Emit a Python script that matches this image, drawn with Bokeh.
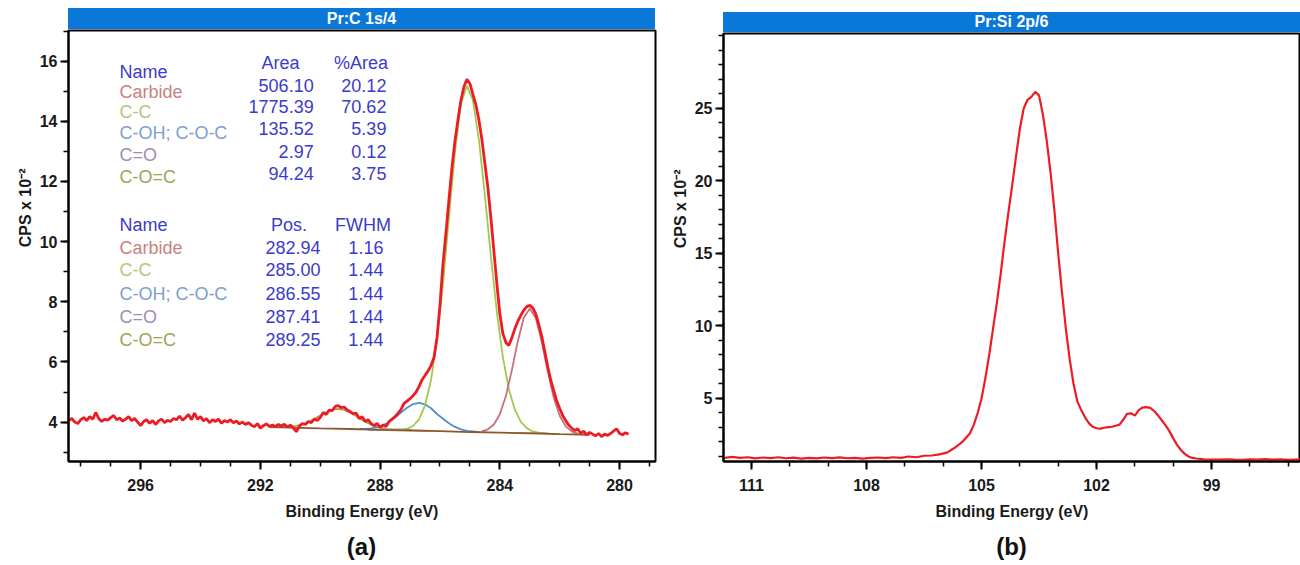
from bokeh.plotting import figure
from bokeh.models import Range1d, FixedTicker, Div, Title, ColumnDataSource
from bokeh.layouts import row, column
from bokeh.embed import file_html
from bokeh.resources import INLINE
from bokeh.core.properties import value

FONT = "Liberation Sans"
RED = "#ec1c24"
BAR_BLUE = "#0a78d8"
TXT_BLUE = "#3b3bcc"

# ---------------- panel (a): C 1s ----------------
c1s_start, c1s_step = 298.4, 0.1
c1s_cps = [
    4.05, 4.12, 4.00, 3.95, 4.08, 4.15, 4.05, 4.18, 4.10, 4.32,
    4.12, 4.02, 4.10, 4.06, 4.15, 4.22, 4.08, 4.14, 4.03, 4.10,
    4.18, 4.05, 4.12, 4.00, 3.88, 4.02, 4.08, 3.96, 4.05, 3.92,
    4.04, 4.10, 3.98, 4.06, 4.02, 4.12, 4.08, 4.20, 4.06, 4.15,
    4.25, 4.08, 4.30, 4.10, 4.18, 4.04, 4.12, 3.98, 4.08, 4.02,
    4.10, 3.96, 4.05, 4.00, 4.08, 3.98, 4.04, 3.94, 4.00, 3.92,
    3.98, 3.90, 3.84, 3.95, 3.80,
    3.88, 3.94, 3.86, 3.90, 3.85, 3.92, 3.87, 3.93, 3.84, 3.90,
    3.80, 3.68, 3.86, 3.95, 3.92, 4.02, 3.98, 4.10, 4.05, 4.15,
    4.32, 4.25, 4.40, 4.38, 4.52, 4.55, 4.48, 4.50, 4.40, 4.35,
    4.28, 4.30, 4.12, 4.18, 4.02, 4.08, 3.95, 3.88, 3.96, 3.82,
    3.90, 3.85, 4.02, 4.10, 4.18, 4.30, 4.42, 4.62, 4.70, 4.78,
    4.88, 5.00, 5.18, 5.40, 5.55, 5.70, 5.88, 6.15, 6.80, 7.90,
    9.25, 10.30, 11.40, 12.45, 13.35, 14.05, 14.70, 15.15, 15.40, 15.25,
    14.90, 14.55, 14.05, 13.40, 12.60, 11.80, 10.80, 9.70, 8.60, 7.60,
    6.95, 6.65, 6.55, 6.80, 7.10, 7.35, 7.55, 7.72, 7.84, 7.88,
    7.80, 7.60, 7.25, 6.85, 6.35, 5.85, 5.40, 5.05, 4.70, 4.45,
    4.22, 4.05, 3.90, 3.80, 3.72, 3.78, 3.62, 3.70, 3.58, 3.66,
    3.60, 3.55, 3.62, 3.52, 3.60, 3.56, 3.62, 3.70, 3.78, 3.62,
    3.58, 3.65, 3.60,
]
c1s_be = [round(c1s_start - c1s_step * i, 1) for i in range(len(c1s_cps))]

bg_be = [291.7, 290.0, 289.0, 288.0, 287.0, 286.0, 285.0, 284.0, 283.0, 282.0, 281.0]
bg_cps = [3.83, 3.79, 3.77, 3.74, 3.72, 3.70, 3.67, 3.65, 3.63, 3.60, 3.58]

cc_be = [287.7, 287.5, 287.3, 287.1, 286.9, 286.7, 286.5, 286.3, 286.1, 285.9,
         285.7, 285.5, 285.3, 285.1, 284.9, 284.7, 284.5, 284.3, 284.1, 283.9,
         283.7, 283.5, 283.3, 283.1, 282.9, 282.7, 282.5, 282.3, 282.1]
cc_cps = [3.74, 3.74, 3.75, 3.78, 3.87, 4.09, 4.55, 5.39, 6.73, 8.59,
          10.81, 12.97, 14.58, 15.18, 14.70, 13.39, 11.53, 9.52, 7.66, 6.17,
          5.10, 4.42, 4.01, 3.80, 3.69, 3.65, 3.63, 3.61, 3.61]

carb_be = [284.6, 284.4, 284.2, 284.0, 283.8, 283.6, 283.4, 283.2, 283.0,
           282.8, 282.6, 282.4, 282.2, 282.0, 281.8, 281.6, 281.4]
carb_cps = [3.69, 3.76, 3.92, 4.26, 4.86, 5.72, 6.69, 7.47, 7.78,
            7.46, 6.67, 5.69, 4.82, 4.21, 3.86, 3.69, 3.62]

coh_be = [288.7, 288.5, 288.3, 288.1, 287.9, 287.7, 287.5, 287.3, 287.1, 286.9, 286.7,
          286.5, 286.3, 286.1, 285.9, 285.7, 285.5, 285.3, 285.1, 284.9, 284.7]
coh_cps = [3.77, 3.77, 3.79, 3.83, 3.90, 4.00, 4.15, 4.32, 4.48, 4.60, 4.64,
           4.59, 4.46, 4.27, 4.11, 3.96, 3.84, 3.76, 3.71, 3.69, 3.67]

co_be = [288.4, 287.9, 287.4, 286.9, 286.4]
co_cps = [3.75, 3.75, 3.76, 3.73, 3.71]

coc_be = [291.4, 291.2, 291.0, 290.8, 290.6, 290.4, 290.2, 290.0, 289.8, 289.6, 289.4,
          289.2, 289.0, 288.8, 288.6, 288.4, 288.2, 288.0, 287.8, 287.6, 287.4]
coc_cps = [3.83, 3.83, 3.85, 3.88, 3.93, 4.00, 4.11, 4.22, 4.33, 4.41, 4.44,
           4.40, 4.31, 4.20, 4.07, 3.96, 3.87, 3.81, 3.77, 3.75, 3.74]

table1_headers = ["Name", "Area", "%Area"]
table2_headers = ["Name", "Pos.", "FWHM"]
comp_names = ["Carbide", "C-C", "C-OH; C-O-C", "C=O", "C-O=C"]
areas = ["506.10", "1775.39", "135.52", "2.97", "94.24"]
pct_areas = ["20.12", "70.62", "5.39", "0.12", "3.75"]
positions = ["282.94", "285.00", "286.55", "287.41", "289.25"]
fwhms = ["1.16", "1.44", "1.44", "1.44", "1.44"]

c1s_xticks = [296, 292, 288, 284, 280]
c1s_yticks = [4, 6, 8, 10, 12, 14, 16]

# ---------------- panel (b): Si 2p ----------------
si_be = [111.7, 111.5, 111.3, 111.1, 110.9, 110.7, 110.5, 110.3, 110.1, 109.9,
         109.7, 109.5, 109.3, 109.1, 108.9, 108.7, 108.5, 108.3, 108.1, 107.9,
         107.7, 107.5, 107.3, 107.1, 106.9, 106.7, 106.5, 106.3, 106.1, 105.9,
         105.7, 105.5, 105.3, 105.2, 105.1, 105.0, 104.9, 104.8, 104.7, 104.6,
         104.5, 104.4, 104.3, 104.2, 104.1, 104.0, 103.9, 103.8, 103.7, 103.6,
         103.5, 103.4, 103.3, 103.2, 103.1, 103.0, 102.9, 102.8, 102.7, 102.6,
         102.5, 102.4, 102.3, 102.2, 102.1, 102.0, 101.9, 101.8, 101.7, 101.6,
         101.5, 101.4, 101.3, 101.2, 101.1, 101.0, 100.9, 100.8, 100.7, 100.6,
         100.5, 100.4, 100.3, 100.2, 100.1, 100.0, 99.9, 99.8, 99.7, 99.6,
         99.5, 99.4, 99.3, 99.2, 99.0, 98.8, 98.6, 98.4, 98.2, 98.0,
         97.8, 97.6, 97.4, 97.2, 97.0, 96.8, 96.7]
si_cps = [0.90, 0.97, 0.91, 0.95, 0.87, 0.93, 0.89, 0.95, 0.88, 0.92,
          0.85, 0.91, 0.87, 0.93, 0.89, 0.94, 0.88, 0.91, 0.85, 0.90,
          0.93, 0.89, 0.95, 0.91, 1.00, 0.95, 1.05, 1.07, 1.15, 1.27,
          1.60, 2.00, 2.60, 3.20, 4.00, 5.00, 6.40, 8.00, 9.80, 11.60,
          13.60, 15.80, 17.80, 19.70, 21.70, 23.60, 25.00, 25.60, 25.80, 26.15,
          25.90, 24.60, 22.80, 20.60, 18.00, 15.00, 12.30, 9.80, 7.70, 6.00,
          4.80, 4.20, 3.70, 3.30, 3.05, 2.95, 2.92, 2.98, 3.02, 3.05,
          3.12, 3.20, 3.55, 3.95, 3.98, 3.82, 4.20, 4.38, 4.40, 4.35,
          4.15, 3.85, 3.50, 3.15, 2.75, 2.25, 1.80, 1.45, 1.18, 1.00,
          0.90, 0.86, 0.83, 0.80, 0.79, 0.78, 0.81, 0.78, 0.77, 0.80,
          0.78, 0.82, 0.78, 0.80, 0.77, 0.79, 0.80]

si_xticks = [111, 108, 105, 102, 99]
si_yticks = [5, 10, 15, 20, 25]

# ---------------- styling helpers ----------------
def style(p, xt, xminor, yt, yminor, label_offset):
    p.xaxis.ticker = FixedTicker(ticks=xt, minor_ticks=xminor)
    p.yaxis.ticker = FixedTicker(ticks=yt, minor_ticks=yminor)
    for ax in (p.xaxis[0], p.yaxis[0]):
        ax.axis_line_width = 2
        ax.axis_line_color = "black"
        ax.major_tick_line_width = 2
        ax.minor_tick_line_width = 1.5
        ax.major_tick_line_color = "black"
        ax.minor_tick_line_color = "black"
        ax.major_tick_in = 0
        ax.minor_tick_in = 0
        ax.major_tick_out = 8
        ax.minor_tick_out = 5
        ax.major_label_text_font = FONT
        ax.major_label_text_font_size = "16px"
        ax.major_label_text_font_style = "bold"
        ax.major_label_text_color = "#1a1a1a"
    p.xaxis.major_label_standoff = 9
    p.yaxis.major_label_standoff = 3
    p.xaxis.axis_label = "Binding Energy (eV)"
    p.xaxis.axis_label_text_font = FONT
    p.xaxis.axis_label_text_font_style = "bold"
    p.xaxis.axis_label_text_font_size = "16px"
    p.xaxis.axis_label_text_color = "#1a1a1a"
    p.xaxis.axis_label_standoff = 9
    p.grid.visible = False
    p.outline_line_color = "black"
    p.outline_line_width = 2
    p.add_layout(Title(text="CPS x 10\u207b\u00b2", align="right", offset=label_offset,
                       text_font=FONT, text_font_size="16px", text_font_style="bold",
                       text_color="#1a1a1a", standoff=6), "left")


def bar(text, w, h, mtop, mleft):
    html = ('<div style="width:%dpx;height:%dpx;background:%s;color:#ffffff;'
            'font-family:\'Liberation Sans\';font-weight:bold;font-size:16px;'
            'line-height:%dpx;text-align:center;">%s</div>') % (w, h, BAR_BLUE, h, text)
    return Div(text=html, width=w, height=h, margin=(mtop, 0, 0, mleft))


def caption(text, w, mleft):
    html = ('<div style="width:%dpx;text-align:center;font-family:\'Liberation Sans\';'
            'font-weight:bold;font-size:24px;padding-top:7px;color:#111;">%s</div>') % (w, text)
    return Div(text=html, width=w, height=35, margin=(0, 0, 0, mleft))


# ---------------- figure (a) ----------------
p1 = figure(width=663, height=494, x_range=Range1d(298.41, 278.80), y_range=Range1d(2.69, 17.02),
            output_backend="svg", toolbar_location=None, title=None,
            min_border_left=68, min_border_right=8, min_border_top=1, min_border_bottom=62)
style(p1, c1s_xticks, list(range(279, 299)), c1s_yticks, list(range(3, 18)), 138)

p1.line(coc_be, coc_cps, line_color="#a6a040", line_width=1.6)
p1.line(co_be, co_cps, line_color="#9a78b0", line_width=1.6)
p1.line(coh_be, coh_cps, line_color="#4f8fd4", line_width=1.8)
p1.line(cc_be, cc_cps, line_color="#a2c84e", line_width=1.8)
p1.line(carb_be, carb_cps, line_color="#c8707e", line_width=1.8)
p1.line(bg_be, bg_cps, line_color="#8b5a2b", line_width=1.8)
p1.line(c1s_be, c1s_cps, line_color=RED, line_width=2.8)

comp_text_colors = ["#c97f80", "#b4c57e", "#7d9fce", "#a08cb5", "#a3a354"]

# table layout (data coordinates)
name_x = 296.71
t1_name_head_y = 15.65
t1_head_y = 15.94
t1_name_y = [14.97, 14.30, 13.60, 12.87, 12.14]
t1_val_y = [15.19, 14.48, 13.76, 13.00, 12.28]
t2_head_y = 10.56
t2_row_y = [9.79, 9.06, 8.26, 7.51, 6.73]
area_head_x, area_x = 291.33, 290.22
pct_head_x, pct_x = 288.64, 287.79
pos_head_x, pos_x = 291.04, 289.99
fwhm_head_x, fwhm_x = 288.57, 287.89

left_src = ColumnDataSource(dict(
    x=[name_x] * 12,
    y=[t1_name_head_y] + t1_name_y + [t2_head_y] + t2_row_y,
    text=[table1_headers[0]] + comp_names + [table2_headers[0]] + comp_names,
    color=[TXT_BLUE] + comp_text_colors + [TXT_BLUE] + comp_text_colors,
))
head_src = ColumnDataSource(dict(
    x=[area_head_x, pct_head_x, pos_head_x, fwhm_head_x],
    y=[t1_head_y, t1_head_y, t2_head_y, t2_head_y],
    text=[table1_headers[1], table1_headers[2], table2_headers[1], table2_headers[2]],
))
val_src = ColumnDataSource(dict(
    x=[area_x] * 5 + [pct_x] * 5 + [pos_x] * 5 + [fwhm_x] * 5,
    y=t1_val_y + t1_val_y + t2_row_y + t2_row_y,
    text=areas + pct_areas + positions + fwhms,
))
common = dict(text_font=value(FONT), text_font_size="18px", text_baseline="middle")
p1.text(x="x", y="y", text="text", text_color="color", source=left_src, text_align="left", **common)
p1.text(x="x", y="y", text="text", text_color=TXT_BLUE, source=head_src, text_align="center", **common)
p1.text(x="x", y="y", text="text", text_color=TXT_BLUE, source=val_src, text_align="right", **common)

# ---------------- figure (b) ----------------
p2 = figure(width=637, height=491, x_range=Range1d(111.73, 96.68), y_range=Range1d(0.655, 30.17),
            output_backend="svg", toolbar_location=None, title=None,
            min_border_left=60, min_border_right=0, min_border_top=1, min_border_bottom=62)
style(p2, si_xticks, list(range(97, 112)), si_yticks, list(range(1, 31)), 136)
p2.line(si_be, si_cps, line_color=RED, line_width=2.2)

layout = row(
    column(bar("Pr:C 1s/4", 587, 21, 8, 68), p1, caption("(a)", 587, 68)),
    column(bar("Pr:Si 2p/6", 577, 20, 12, 60), p2, caption("(b)", 577, 60)),
)

open("out.html", "w").write(file_html(layout, INLINE))
